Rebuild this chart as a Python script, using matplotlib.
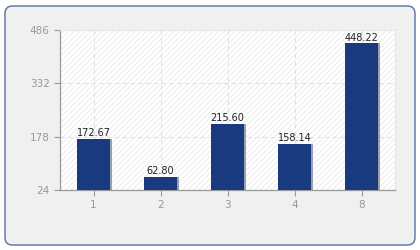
import matplotlib
matplotlib.use("Agg")
import matplotlib.pyplot as plt
from matplotlib.patches import FancyBboxPatch, Rectangle

categories = ["1", "2", "3", "4", "8"]
values = [172.67, 62.80, 215.60, 158.14, 448.22]
yticks = [24, 178, 332, 486]

plt.rcParams['hatch.color'] = '#e9e9e9'
plt.rcParams['hatch.linewidth'] = 0.6

fig = plt.figure(figsize=(4.2, 2.5), dpi=100)
fig.patch.set_facecolor('white')
border = FancyBboxPatch((5/420, 5/250), 410/420, 239/250,
                        boxstyle="round,pad=0,rounding_size=0.018",
                        transform=fig.transFigure, facecolor='#f0f0f0',
                        edgecolor='#5b6ea6', linewidth=1.0, mutation_aspect=420/250,
                        zorder=-10)
fig.patches.append(border)

ax = fig.add_axes([60/420, 60/250, 335/420, 160/250])
ax.set_zorder(5)
ax.set_facecolor('white')
ax.add_patch(Rectangle((0, 0), 1, 1, transform=ax.transAxes, facecolor='white',
                       hatch='//////', edgecolor='#e9e9e9', linewidth=0, zorder=0))

x = list(range(len(categories)))
ax.set_xlim(-0.5, len(categories) - 0.5)
ax.set_ylim(yticks[0], yticks[-1])

for xi in x:
    ax.axvline(xi, color='#e0e0e0', linestyle=(0, (4, 3)), linewidth=0.8, zorder=1)
for yt in yticks[1:-1]:
    ax.axhline(yt, color='#e0e0e0', linestyle=(0, (4, 3)), linewidth=0.8, zorder=1)

bottoms = [yticks[0]] * len(values)
heights = [v - yticks[0] for v in values]
# shadow
ax.bar([xi + 0.02 for xi in x], heights, bottom=bottoms, width=0.5, color='#9aa0b0', zorder=2)
ax.bar(x, heights, bottom=bottoms, width=0.5, color='#1a3a7f', zorder=3)
for xi, v in zip(x, values):
    ax.text(xi, v + 1, f"{v:.2f}", ha='center', va='bottom', fontsize=7,
            color='#222222', zorder=4)

ax.set_xticks(x)
ax.set_xticklabels(categories)
ax.set_yticks(yticks)
ax.tick_params(axis='both', colors='#999999', labelcolor='#999999', labelsize=7.5,
               length=4, width=0.8, direction='out')
ax.tick_params(axis='x', pad=3)
for s in ['left', 'bottom']:
    ax.spines[s].set_color('#999999')
    ax.spines[s].set_linewidth(0.9)
for s in ['top', 'right']:
    ax.spines[s].set_color('#e6e6e6')
    ax.spines[s].set_linewidth(0.8)

fig.savefig("out.png", dpi=100)
